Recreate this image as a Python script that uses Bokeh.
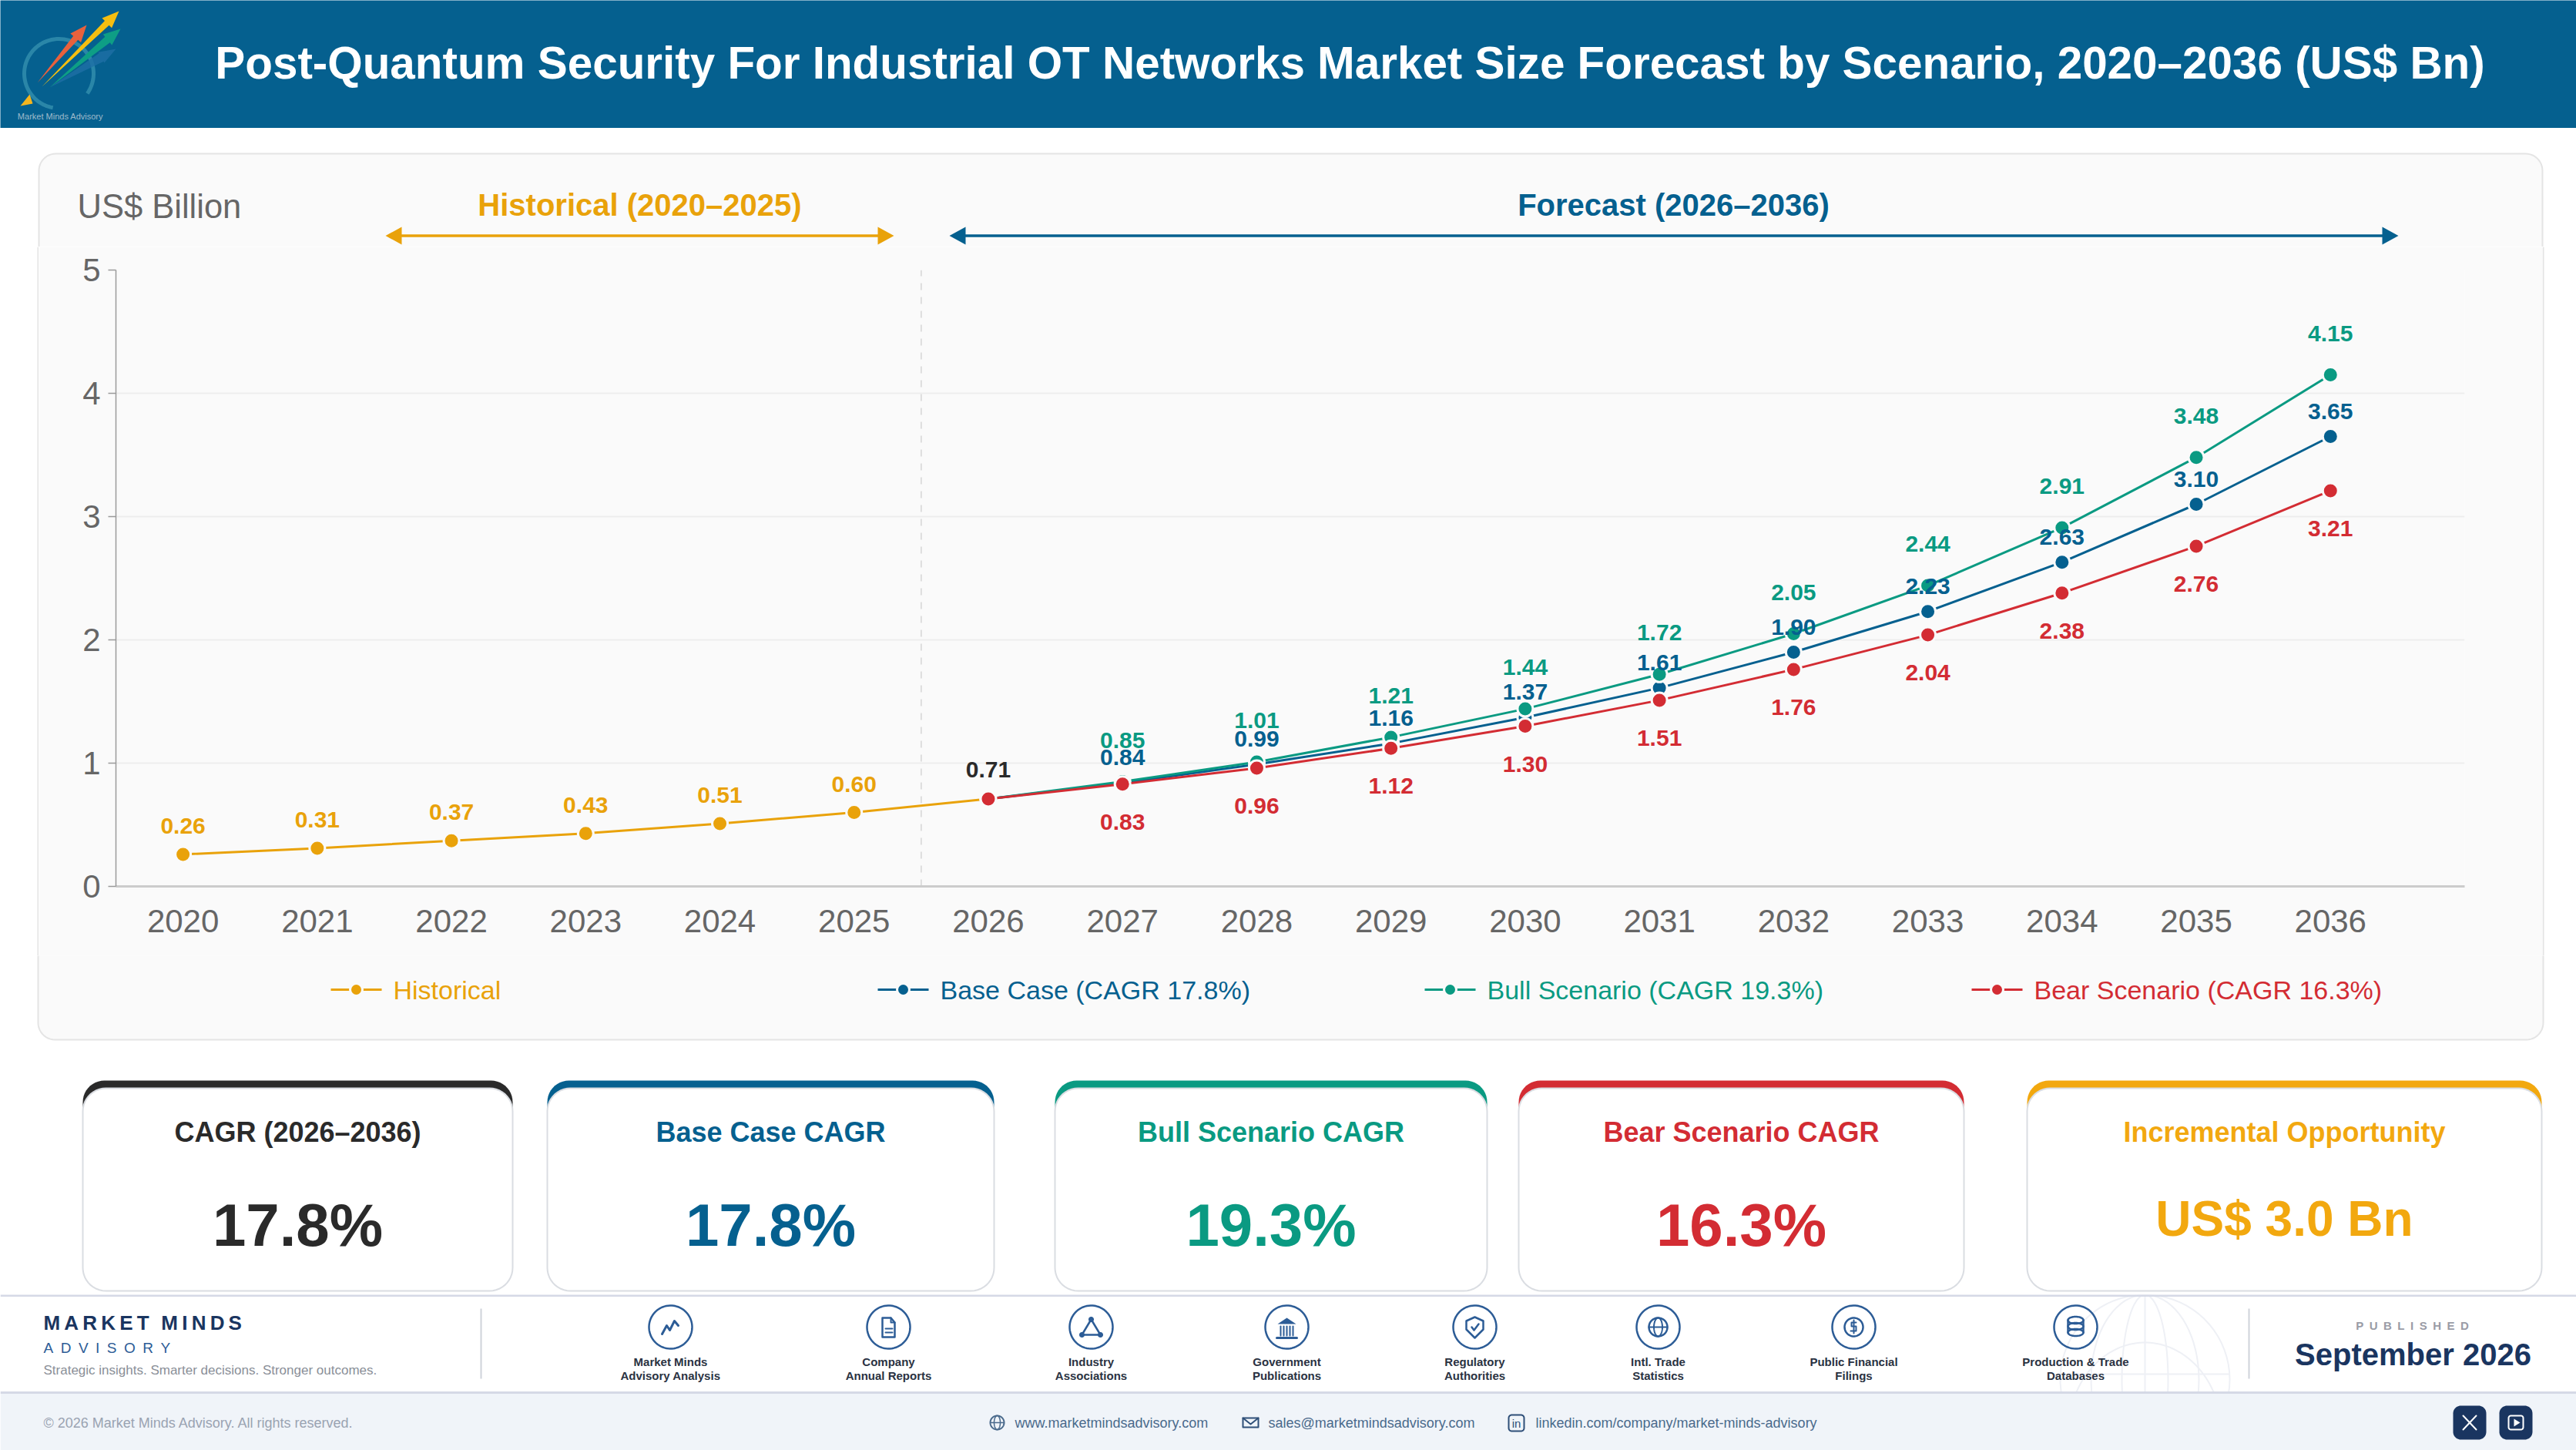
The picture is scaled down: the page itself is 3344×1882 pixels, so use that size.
import numpy as np
from bokeh.core.properties import value
from bokeh.embed import file_html
from bokeh.resources import INLINE
from bokeh.plotting import figure
from bokeh.layouts import column, row
from bokeh.models import ColumnDataSource, Range1d, FixedTicker

# ---------- data ----------
hist_years = [2020, 2021, 2022, 2023, 2024, 2025, 2026]
hist_values = [0.26, 0.31, 0.37, 0.43, 0.51, 0.60, 0.71]
fc_years = [2026, 2027, 2028, 2029, 2030, 2031, 2032, 2033, 2034, 2035, 2036]
base_values = [0.71, 0.84, 0.99, 1.16, 1.37, 1.61, 1.90, 2.23, 2.63, 3.10, 3.65]
bull_values = [0.71, 0.85, 1.01, 1.21, 1.44, 1.72, 2.05, 2.44, 2.91, 3.48, 4.15]
bear_values = [0.71, 0.83, 0.96, 1.12, 1.30, 1.51, 1.76, 2.04, 2.38, 2.76, 3.21]
y_ticks = [0, 1, 2, 3, 4, 5]
legend_labels = ["Historical", "Base Case (CAGR 17.8%)", "Bull Scenario (CAGR 19.3%)", "Bear Scenario (CAGR 16.3%)"]
card_titles = ["CAGR (2026–2036)", "Base Case CAGR", "Bull Scenario CAGR", "Bear Scenario CAGR", "Incremental Opportunity"]
card_values = ["17.8%", "17.8%", "19.3%", "16.3%", "US$ 3.0 Bn"]
source_labels = [("Market Minds", "Advisory Analysis"), ("Company", "Annual Reports"), ("Industry", "Associations"),
                 ("Government", "Publications"), ("Regulatory", "Authorities"), ("Intl. Trade", "Statistics"),
                 ("Public Financial", "Filings"), ("Production & Trade", "Databases")]
TITLE = "Post-Quantum Security For Industrial OT Networks Market Size Forecast by Scenario, 2020–2036 (US$ Bn)"

# ---------- styles ----------
FONT = "Liberation Sans"
BLUE, GREEN, RED, AMBER, AMBER2, INK = "#05608F", "#0A9A82", "#D32C33", "#E9A20A", "#F2A80F", "#2A2A2A"
NAVY, ICON = "#1A3560", "#2C5C96"
PANEL, PANEL_LINE = "#FAFAFA", "#E4E4E4"
W, H = 3344, 1882
FX0, FX1, FY0, FY1 = 150, 3199, 350, 1150  # plot frame in page pixels
PL, PR, PT, PB = 50, 3300, 199, 1349       # chart panel
BAND0, BAND1 = 320, 1240                   # rows occupied by the axes figure


def rrect(l, t, r, b, rad):
    xs, ys = [], []
    for cx, cy, a0 in [(r - rad, t + rad, -90), (r - rad, b - rad, 0), (l + rad, b - rad, 90), (l + rad, t + rad, 180)]:
        a = np.radians(np.linspace(a0, a0 + 90, 12))
        xs += list(cx + rad * np.cos(a))
        ys += list(cy + rad * np.sin(a))
    return xs, ys


def ell(cx, cy, rx, ry=None, a0=0, a1=360):
    ry = rx if ry is None else ry
    a = np.radians(np.linspace(a0, a1, 72))
    return list(cx + rx * np.cos(a)), list(cy + ry * np.sin(a))


def panel_fig(y0, y1, bg="#FFFFFF", x0=0, x1=W):
    p = figure(width=x1 - x0, height=y1 - y0, x_range=Range1d(x0, x1), y_range=Range1d(y1, y0),
               x_axis_location=None, y_axis_location=None, toolbar_location=None, tools="",
               output_backend="svg", min_border=0, outline_line_color=None, frame_align=False,
               background_fill_color=bg, border_fill_color=bg)
    p.grid.visible = False
    return p


def txt(p, x, y, s, size, color, bold=False, align="left"):
    p.text([x], [y], text=[s], text_font=value(FONT), text_font_size=f"{size}px", text_color=color,
           text_font_style="bold" if bold else "normal", text_align=align, text_baseline="middle")


def poly(p, pts, color, alpha=1.0):
    p.patch([q[0] for q in pts], [q[1] for q in pts], fill_color=color, line_color=None, fill_alpha=alpha)


def stroke(p, pts, color, w=2.5, alpha=1.0):
    p.line([q[0] for q in pts], [q[1] for q in pts], line_color=color, line_width=w, line_alpha=alpha,
           line_cap="round", line_join="round")


# ---------- header ----------
hd = panel_fig(0, 166, "#05608F")
xs, ys = ell(76, 95, 45, 45, 100, 395)
hd.line(xs, ys, line_color="#2A86A8", line_width=5)


def logo_arrow(tail, tip, w, hw, color, alpha=1.0):
    t, h = np.array(tail, float), np.array(tip, float)
    d = (h - t) / np.linalg.norm(h - t)
    n = np.array([-d[1], d[0]])
    neck = h - d * 22
    poly(hd, [tuple(t), tuple(neck + n * w), tuple(neck + n * hw), tuple(h), tuple(neck - n * hw), tuple(neck - n * w)], color, alpha)


logo_arrow((64, 113), (150, 63), 6, 8, "#1E6FA5", 0.8)
logo_arrow((64, 113), (156, 37), 5, 9, "#0E9E85")
logo_arrow((48, 107), (112, 32), 4, 9, "#E8613C")
logo_arrow((54, 112), (154, 14), 4, 9, "#F5BE10")
poly(hd, [(38, 122), (26, 137), (42, 134)], "#F5B51E")
txt(hd, 78, 150, "Market Minds Advisory", 11, "#9FBBCB", align="center")
txt(hd, 1752, 81, TITLE, 58.4, "#FFFFFF", True, "center")

# ---------- chart panel: top band ----------
top = panel_fig(166, BAND0)
xs, ys = rrect(PL, PT, PR, 1500, 22)
top.patch(xs, ys, fill_color=PANEL, line_color=PANEL_LINE, line_width=2)
txt(top, 100, 267, "US$ Billion", 43.5, "#666666")
txt(top, 830, 265, "Historical (2020–2025)", 40, AMBER, True, "center")
txt(top, 2172, 265, "Forecast (2026–2036)", 40, BLUE, True, "center")


def dbl_arrow(a, b, color):
    y, hw, hl, t = 305.5, 11.5, 21, 1.8
    top.patch([a, a + hl, a + hl, b - hl, b - hl, b, b - hl, b - hl, a + hl, a + hl],
              [y, y - hw, y - t, y - t, y - hw, y, y + hw, y + t, y + t, y + hw],
              fill_color=color, line_color=None)


dbl_arrow(500, 1160, AMBER)
dbl_arrow(1232, 3113, BLUE)

# ---------- chart panel: axes ----------
pc = figure(width=PR - PL, height=BAND1 - BAND0, x_range=Range1d(2019.5, 2037.0), y_range=Range1d(0, 5),
            toolbar_location=None, tools="", output_backend="svg", frame_align=False,
            min_border_left=FX0 - PL, min_border_right=PR - FX1, min_border_top=FY0 - BAND0, min_border_bottom=BAND1 - FY1,
            outline_line_color=None, background_fill_color=PANEL, border_fill_color=PANEL)
pc.xgrid.visible = False
pc.ygrid.ticker = FixedTicker(ticks=y_ticks)
pc.ygrid.grid_line_color = "#EDEDED"
pc.ygrid.grid_line_width = 2
pc.xaxis.ticker = FixedTicker(ticks=hist_years[:-1] + fc_years)
pc.yaxis.ticker = FixedTicker(ticks=y_ticks)
for ax in (pc.xaxis[0], pc.yaxis[0]):
    ax.major_label_text_font = FONT
    ax.major_label_text_font_size = "42px"
    ax.major_label_text_color = "#666666"
    ax.minor_tick_line_color = None
pc.xaxis.axis_line_color = "#CCCCCC"
pc.xaxis.axis_line_width = 3
pc.xaxis.major_tick_line_color = None
pc.xaxis.major_label_standoff = 24
pc.yaxis.axis_line_color = "#9A9A9A"
pc.yaxis.axis_line_width = 1.5
pc.yaxis.major_tick_line_color = "#9A9A9A"
pc.yaxis.major_tick_line_width = 1.5
pc.yaxis.major_tick_in = 0
pc.yaxis.major_tick_out = 10
pc.yaxis.major_label_standoff = 10

pc.line([2025.5, 2025.5], [0, 5], line_color="#DDDDDD", line_width=2, line_dash=[9, 9])


def series(xv, yv, color, mx=None, my=None):
    pc.line(xv, yv, line_color=color, line_width=3)
    pc.scatter(xv if mx is None else mx, yv if my is None else my, size=20, fill_color=color,
               line_color=PANEL, line_width=3)


series(hist_years, hist_values, AMBER, hist_years[:-1], hist_values[:-1])
series(fc_years, base_values, BLUE)
series(fc_years, bull_values, GREEN)
series(fc_years, bear_values, RED)


def value_labels(xv, yv, color, off):
    src = ColumnDataSource(dict(x=xv, y=yv, t=[f"{v:.2f}" for v in yv]))
    pc.text("x", "y", text="t", source=src, text_font=value(FONT), text_font_size="30px", text_font_style="bold",
            text_color=color, text_align="center", text_baseline="middle", y_offset=off)


value_labels(hist_years[:-1], hist_values[:-1], AMBER, -37)
value_labels(hist_years[-1:], hist_values[-1:], INK, -38)
value_labels(fc_years[1:], bull_values[1:], GREEN, -54)
value_labels(fc_years[1:], base_values[1:], BLUE, -33)
value_labels(fc_years[1:], bear_values[1:], RED, 49)

# side strips carry the panel's border next to the axes figure
sl = panel_fig(BAND0, BAND1, x0=0, x1=PL)
sl.quad(left=48, right=50, top=BAND0, bottom=BAND1, fill_color=PANEL_LINE, line_color=None)
sr = panel_fig(BAND0, BAND1, x0=PR, x1=W)
sr.quad(left=PR, right=PR + 2, top=BAND0, bottom=BAND1, fill_color=PANEL_LINE, line_color=None)

# ---------- chart panel: legend band ----------
lg = panel_fig(BAND1, 1380)
xs, ys = rrect(PL - 1, 0, PR + 1, PB, 22)
lg.patch(xs, ys, fill_color=PANEL, line_color=PANEL_LINE, line_width=2)
for label, color, lx in zip(legend_labels, [AMBER, BLUE, GREEN, RED], [429, 1139, 1849, 2559]):
    lg.line([lx, lx + 66], [1284, 1284], line_color=color, line_width=3)
    lg.scatter([lx + 33], [1284], size=16, fill_color=color, line_color=PANEL, line_width=3)
    txt(lg, lx + 81, 1284, label, 34, color)

# ---------- cards ----------
cd = panel_fig(1380, 1680)
card_edges = [(107, 665), (710, 1290), (1369, 1930), (1971, 2549), (2631, 3299)]
card_colors = [INK, BLUE, GREEN, RED, AMBER2]
for i, ((l, r), c) in enumerate(zip(card_edges, card_colors)):
    xs, ys = rrect(l, 1402, r, 1470, 28)
    cd.patch(xs, ys, fill_color=c, line_color=None)
    xs, ys = rrect(l, 1412, r, 1675, 30)
    cd.patch(xs, ys, fill_color="#FFFFFF", line_color="#DADDE2", line_width=2)
    cm = (l + r) / 2
    txt(cd, cm, 1469, card_titles[i], 36, c, True, "center")
    if i == 4:
        txt(cd, cm, 1581, card_values[i], 64, c, True, "center")
    else:
        txt(cd, cm, 1589, card_values[i], 78, c, True, "center")

# ---------- footer ----------
ft = panel_fig(1680, H)
GLOBE = "#EEF0F5"
for rx_ in (110, 70, 30):
    xs, ys = ell(2784, 1790, rx_, 110)
    ft.line(xs, ys, line_color=GLOBE, line_width=2)
ft.line([2784, 2784], [1680, 1900], line_color=GLOBE, line_width=2)
xs, ys = ell(2784, 1860, 100, 118, 180, 360)
ft.line(xs, ys, line_color=GLOBE, line_width=2)
ft.line([2674, 2894], [1783, 1783], line_color=GLOBE, line_width=2)

ft.quad(left=0, right=W, top=1807, bottom=H, fill_color="#F0F4F9", line_color=None)
ft.line([0, W], [1681, 1681], line_color="#D5D9E6", line_width=3)
ft.line([0, W], [1807, 1807], line_color="#D5D9E6", line_width=3)
ft.line([624, 624], [1698, 1789], line_color="#CFD3DA", line_width=2)
ft.line([2919, 2919], [1698, 1789], line_color="#CFD3DA", line_width=2)

txt(ft, 56, 1716, "\u2009".join("MARKET") + "\u2009\u2009\u2009" + "\u2009".join("MINDS"), 26, NAVY, True)
txt(ft, 56, 1749, "\u2002".join("ADVISORY"), 19, "#2C5C96")
txt(ft, 56, 1778, "Strategic insights. Smarter decisions. Stronger outcomes.", 17, "#8A8F98")
txt(ft, 3131, 1720, "\u2002".join("PUBLISHED"), 15, "#9A9CA6", True, "center")
txt(ft, 3132, 1757, "September 2026", 40, NAVY, True, "center")

icon_x = [870, 1153, 1416, 1670, 1914, 2152, 2406, 2694]
for cx, (l1, l2) in zip(icon_x, source_labels):
    xs, ys = ell(cx, 1722, 28)
    ft.line(xs, ys, line_color=ICON, line_width=2.5)
    txt(ft, cx, 1767, l1, 15, "#2A3242", True, "center")
    txt(ft, cx, 1785, l2, 15, "#2A3242", True, "center")


def at(cx, pts, cy=1722):
    return [(cx + a, cy + b) for a, b in pts]


# 1 trend
stroke(ft, at(870, [(-11, 9), (-5, -2), (-1, 4), (5, -8), (10, -2)]), ICON, 3)
# 2 document
c = 1153
stroke(ft, at(c, [(-8, -12), (3, -12), (8, -6), (8, 13), (-8, 13), (-8, -12)]), ICON, 2.5)
stroke(ft, at(c, [(-4, 2), (5, 2)]), ICON, 2)
stroke(ft, at(c, [(-4, 7), (5, 7)]), ICON, 2)
stroke(ft, at(c, [(3, -12), (3, -6), (8, -6)]), ICON, 2)
# 3 network
c = 1416
stroke(ft, at(c, [(0, -10), (-12, 10), (12, 10), (0, -10)]), ICON, 2.5)
for a, b in [(0, -10), (-12, 10), (12, 10)]:
    xs, ys = ell(c + a, 1722 + b, 3.5)
    ft.patch(xs, ys, fill_color=ICON, line_color=None)
# 4 government
c = 1670
poly(ft, at(c, [(0, -12), (12, -4), (-12, -4)]), ICON)
for a in (-9, -5, -1, 3, 7):
    stroke(ft, at(c, [(a + 1, -1), (a + 1, 11)]), ICON, 2)
stroke(ft, at(c, [(-13, 14), (13, 14)]), ICON, 3)
# 5 shield
c = 1914
stroke(ft, at(c, [(0, -13), (11, -8), (11, 3), (0, 14), (-11, 3), (-11, -8), (0, -13)]), ICON, 2.5)
stroke(ft, at(c, [(-4, 0), (-1, 4), (5, -4)]), ICON, 2.5)
# 6 globe
c = 2152
xs, ys = ell(c, 1722, 12)
ft.line(xs, ys, line_color=ICON, line_width=2.5)
xs, ys = ell(c, 1722, 5.5, 12)
ft.line(xs, ys, line_color=ICON, line_width=2)
stroke(ft, at(c, [(-12, 0), (12, 0)]), ICON, 2)
# 7 coin
c = 2406
xs, ys = ell(c, 1722, 12)
ft.line(xs, ys, line_color=ICON, line_width=2.5)
stroke(ft, at(c, [(3, -6), (-3, -6), (-3, -1), (3, -1), (3, 5), (-4, 5)]), ICON, 2)
stroke(ft, at(c, [(0, -9), (0, 8)]), ICON, 2)
# 8 database
c = 2694
for b in (-9, -1, 7):
    xs, ys = ell(c, 1722 + b, 10, 4.5)
    ft.line(xs, ys, line_color=ICON, line_width=2.5)
stroke(ft, at(c, [(-10, -9), (-10, 7)]), ICON, 2.5)
stroke(ft, at(c, [(10, -9), (10, 7)]), ICON, 2.5)

# bottom band
txt(ft, 56, 1846, "© 2026 Market Minds Advisory. All rights reserved.", 18, "#9AA3B2")
LINK = "#4A6A8C"
txt(ft, 1317, 1846, "www.marketmindsadvisory.com", 18, LINK)
txt(ft, 1646, 1846, "sales@marketmindsadvisory.com", 18, LINK)
txt(ft, 1993, 1846, "linkedin.com/company/market-minds-advisory", 18, LINK)
xs, ys = ell(1294, 1846, 9)
ft.line(xs, ys, line_color=LINK, line_width=2)
xs, ys = ell(1294, 1846, 4, 9)
ft.line(xs, ys, line_color=LINK, line_width=1.5)
ft.line([1285, 1303], [1846, 1846], line_color=LINK, line_width=1.5)
stroke(ft, [(1613, 1840), (1633, 1840), (1633, 1852), (1613, 1852), (1613, 1840)], "#2E4F78", 2)
stroke(ft, [(1613, 1840), (1623, 1848), (1633, 1840)], "#2E4F78", 2)
xs, ys = rrect(1958, 1836, 1978, 1857, 4)
ft.patch(xs, ys, fill_color=None, line_color="#2E4F78", line_width=2)
txt(ft, 1968, 1847, "in", 15, "#2E4F78", False, "center")
for l, r in [(3184, 3227), (3244, 3287)]:
    xs, ys = rrect(l, 1824, r, 1868, 10)
    ft.patch(xs, ys, fill_color=NAVY, line_color=None)
stroke(ft, [(3197, 1837), (3214, 1855)], "#FFFFFF", 2)
stroke(ft, [(3214, 1837), (3197, 1855)], "#FFFFFF", 2)
xs, ys = rrect(3256, 1837, 3275, 1855, 3)
ft.patch(xs, ys, fill_color=None, line_color="#FFFFFF", line_width=2)
poly(ft, [(3263, 1841), (3271, 1846), (3263, 1851)], "#FFFFFF")

page = column(hd, top, row(sl, pc, sr, spacing=0), lg, cd, ft, spacing=0)
open("out.html", "w").write(file_html(page, INLINE))
